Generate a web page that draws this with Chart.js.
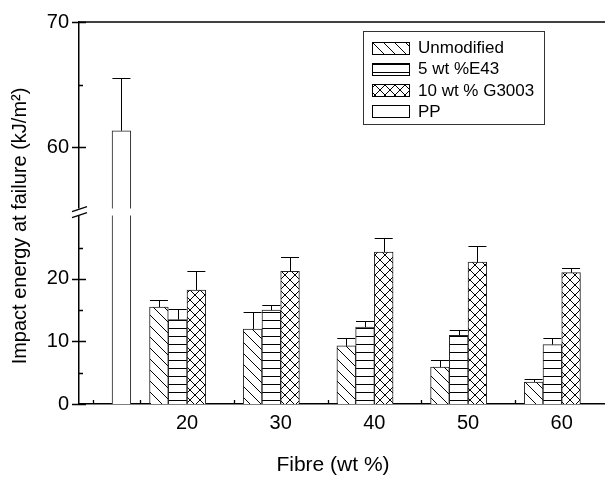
<!DOCTYPE html>
<html>
<head>
<meta charset="utf-8">
<title>Impact energy at failure</title>
<script src="https://cdn.jsdelivr.net/npm/chart.js@4.4.1/dist/chart.umd.min.js"></script>
<style>
  html, body { margin: 0; padding: 0; background: #fff; overflow: hidden; }
  canvas { display: block; }
</style>
</head>
<body>
<canvas id="chart" width="605" height="478"></canvas>
<script>
// ---- data ----
const FIBRE = [20, 30, 40, 50, 60];
const UNMODIFIED = [15.5, 12.0, 9.3, 5.9, 3.5];
const UNMODIFIED_ERR = [1.2, 2.7, 1.2, 1.1, 0.5];
const E43 = [13.5, 15.0, 12.3, 11.0, 9.5];
const E43_ERR = [1.7, 0.8, 0.9, 0.9, 1.0];
const G3003 = [18.2, 21.2, 24.3, 22.7, 21.0];
const G3003_ERR = [3.0, 2.3, 2.2, 2.5, 0.7];
const PP_X = 13;
const PP = 61.3;
const PP_ERR = 4.2;
const SERIES_LABELS = ['Unmodified', '5 wt %E43', '10 wt % G3003', 'PP'];

// axis ticks (broken y axis: low part 0..31, high part 55..70)
const Y_LOW_TICKS = [0, 10, 20];
const Y_LOW_MINOR = [5, 15, 25];
const Y_HIGH_TICKS = [60, 70];
const Y_HIGH_MINOR = [65];
const X_MINOR = [10, 15, 25, 35, 45, 55];
const LOW_MAX = 31.1;
const HIGH_MIN = 55;

const FONT = "'Liberation Sans', Arial, Helvetica, sans-serif";
const canvas = document.getElementById('chart');
const ctx = canvas.getContext('2d');

// hatch fills
function hatch(kind) {
  const s = kind === 'horiz' ? 8 : (kind === 'diag' ? 11 : 10);
  const tile = document.createElement('canvas');
  tile.width = s; tile.height = s;
  const g = tile.getContext('2d');
  g.fillStyle = '#fff';
  g.fillRect(0, 0, s, s);
  g.strokeStyle = '#000';
  g.lineWidth = 1;
  g.beginPath();
  if (kind === 'horiz') {
    g.moveTo(0, 0.5); g.lineTo(s, 0.5);
  } else {
    [-s, 0, s].forEach(k => {
      g.moveTo(k, 0); g.lineTo(k + s, s);
      if (kind === 'cross') { g.moveTo(k, s); g.lineTo(k + s, 0); }
    });
  }
  g.stroke();
  return ctx.createPattern(tile, 'repeat');
}

const FILLS = [hatch('diag'), hatch('horiz'), hatch('cross'), '#fff'];

function barSet(label, values, errors, shift, fill) {
  return {
    label: label,
    data: FIBRE.map((f, i) => ({ x: f + shift, y: values[i] })),
    errors: errors,
    yAxisID: 'yLow',
    backgroundColor: fill,
    borderColor: '#222',
    borderWidth: 1,
    borderSkipped: 'start',
    grouped: false,
    barPercentage: 1,
    categoryPercentage: 1
  };
}

const datasets = [
  barSet(SERIES_LABELS[0], UNMODIFIED, UNMODIFIED_ERR, -3, FILLS[0]),
  barSet(SERIES_LABELS[1], E43, E43_ERR, -1, FILLS[1]),
  barSet(SERIES_LABELS[2], G3003, G3003_ERR, 1, FILLS[2]),
  // PP drawn in both parts of the broken axis
  Object.assign(barSet(SERIES_LABELS[3], [], null, 0, FILLS[3]), {
    data: [{ x: PP_X, y: Math.min(PP, LOW_MAX) }], errors: null
  }),
  Object.assign(barSet(SERIES_LABELS[3], [], null, 0, FILLS[3]), {
    data: [{ x: PP_X, y: PP }], errors: [PP_ERR], yAxisID: 'yHigh', base: HIGH_MIN, legendSkip: true
  })
];

// error bars, ticks, the axis break, titles and the boxed legend
const decorations = {
  id: 'decorations',
  afterDraw(chart, args, opts) {
    const { ctx, chartArea, scales } = chart;
    const xs = scales.x, lo = scales.yLow, hi = scales.yHigh;
    ctx.save();
    ctx.strokeStyle = '#000';
    ctx.lineWidth = 1;

    // upper error bars
    chart.data.datasets.forEach((ds, i) => {
      if (!ds.errors) return;
      const meta = chart.getDatasetMeta(i);
      const ys = scales[ds.yAxisID];
      meta.data.forEach((bar, j) => {
        const top = ys.getPixelForValue(ds.data[j].y + ds.errors[j]);
        ctx.beginPath();
        ctx.moveTo(Math.round(bar.x) + 0.5, bar.y);
        ctx.lineTo(Math.round(bar.x) + 0.5, Math.round(top) + 0.5);
        ctx.moveTo(bar.x - 9, Math.round(top) + 0.5);
        ctx.lineTo(bar.x + 9, Math.round(top) + 0.5);
        ctx.stroke();
      });
    });

    // break gap across axis and PP bar
    const breakY = hi.bottom;
    ctx.fillStyle = '#fff';
    ctx.fillRect(chartArea.left - 3, breakY - 1, chartArea.right - chartArea.left + 3, 7);
    ctx.lineWidth = 1.3;
    ctx.beginPath();
    [0, 6].forEach(d => {
      ctx.moveTo(chartArea.left - 7, breakY + 2 + d);
      ctx.lineTo(chartArea.left + 8, breakY - 3 + d);
    });
    ctx.stroke();

    // tick marks
    const left = chartArea.left, bottom = chartArea.bottom;
    ctx.lineWidth = 1.3;
    ctx.beginPath();
    [[lo, Y_LOW_TICKS], [hi, Y_HIGH_TICKS]].forEach(([s, vals]) => vals.forEach(v => {
      const y = Math.round(s.getPixelForValue(v)) + 0.5;
      ctx.moveTo(left - 7, y); ctx.lineTo(left + 7, y);
    }));
    [[lo, Y_LOW_MINOR], [hi, Y_HIGH_MINOR]].forEach(([s, vals]) => vals.forEach(v => {
      const y = Math.round(s.getPixelForValue(v)) + 0.5;
      ctx.moveTo(left, y); ctx.lineTo(left + 4, y);
    }));
    X_MINOR.forEach(v => {
      const x = Math.round(xs.getPixelForValue(v)) + 0.5;
      ctx.moveTo(x, bottom); ctx.lineTo(x, bottom - 4);
    });
    ctx.stroke();

    // top frame line
    ctx.lineWidth = 1.5;
    ctx.beginPath();
    ctx.moveTo(left - 0.75, chartArea.top);
    ctx.lineTo(chartArea.right, chartArea.top);
    ctx.stroke();

    // axis titles
    ctx.fillStyle = '#000';
    ctx.font = opts.xTitle.size + 'px ' + FONT;
    ctx.textAlign = 'center';
    ctx.textBaseline = 'alphabetic';
    ctx.fillText(opts.xTitle.text, opts.xTitle.x, opts.xTitle.y);
    ctx.save();
    ctx.translate(opts.yTitle.x, opts.yTitle.y);
    ctx.rotate(-Math.PI / 2);
    ctx.font = opts.yTitle.size + 'px ' + FONT;
    ctx.fillText(opts.yTitle.text, 0, 0);
    ctx.restore();

    // legend box
    const L = opts.legend;
    ctx.lineWidth = 1;
    ctx.strokeStyle = '#333';
    ctx.strokeRect(L.x + 0.5, L.y + 0.5, L.w, L.h);
    ctx.font = L.size + 'px ' + FONT;
    ctx.textAlign = 'left';
    ctx.textBaseline = 'middle';
    chart.data.datasets.filter(ds => !ds.legendSkip).forEach((ds, i) => {
      const cy = L.rowY + i * L.rowStep;
      const sy = Math.round(cy - L.boxH / 2) + 0.5;
      ctx.fillStyle = ds.backgroundColor;
      ctx.fillRect(L.boxX, sy, L.boxW, L.boxH);
      ctx.strokeStyle = '#000';
      ctx.strokeRect(L.boxX + 0.5, sy, L.boxW, L.boxH);
      ctx.fillStyle = '#000';
      ctx.fillText(ds.label, L.textX, cy + 1);
    });
    ctx.restore();
  }
};

const tickFont = { family: FONT, size: 20 };

new Chart(ctx, {
  type: 'bar',
  data: { datasets: datasets },
  options: {
    responsive: false,
    animation: false,
    devicePixelRatio: 1,
    layout: { padding: { top: 19, right: 0, bottom: 0, left: 0 } },
    plugins: {
      legend: { display: false },
      tooltip: { enabled: false },
      decorations: {
        xTitle: { text: 'Fibre (wt %)', x: 333, y: 471, size: 21 },
        yTitle: { text: 'Impact energy at failure (kJ/m²)', x: 26, y: 226, size: 20 },
        legend: {
          x: 363, y: 31, w: 181, h: 93, size: 17,
          boxX: 372, boxW: 37, boxH: 12, textX: 418,
          rowY: 47.5, rowStep: 21.2
        }
      }
    },
    scales: {
      x: {
        type: 'linear',
        min: 8.47,
        max: 64.62,
        offset: false,
        grid: { display: false, drawTicks: false, offset: false },
        border: { color: '#000', width: 1.5 },
        ticks: { color: '#000', font: tickFont, padding: 7 },
        afterBuildTicks: s => { s.ticks = FIBRE.map(v => ({ value: v })); },
        afterFit: s => { s.height = 74; }
      },
      yLow: {
        type: 'linear',
        position: 'left',
        stack: 'energy',
        stackWeight: 196,
        weight: 0,
        min: 0,
        max: LOW_MAX,
        grid: { display: false, drawTicks: false },
        border: { color: '#000', width: 1.5 },
        ticks: { color: '#000', font: tickFont, padding: 10 },
        afterBuildTicks: s => { s.ticks = Y_LOW_TICKS.map(v => ({ value: v })); },
        afterFit: s => { s.width = 79; }
      },
      yHigh: {
        type: 'linear',
        position: 'left',
        stack: 'energy',
        stackWeight: 189,
        weight: 1,
        min: HIGH_MIN,
        max: 70,
        grid: { display: false, drawTicks: false },
        border: { color: '#000', width: 1.5 },
        ticks: { color: '#000', font: tickFont, padding: 10 },
        afterBuildTicks: s => { s.ticks = Y_HIGH_TICKS.map(v => ({ value: v })); },
        afterFit: s => { s.width = 79; }
      }
    }
  },
  plugins: [decorations]
});
</script>
</body>
</html>
